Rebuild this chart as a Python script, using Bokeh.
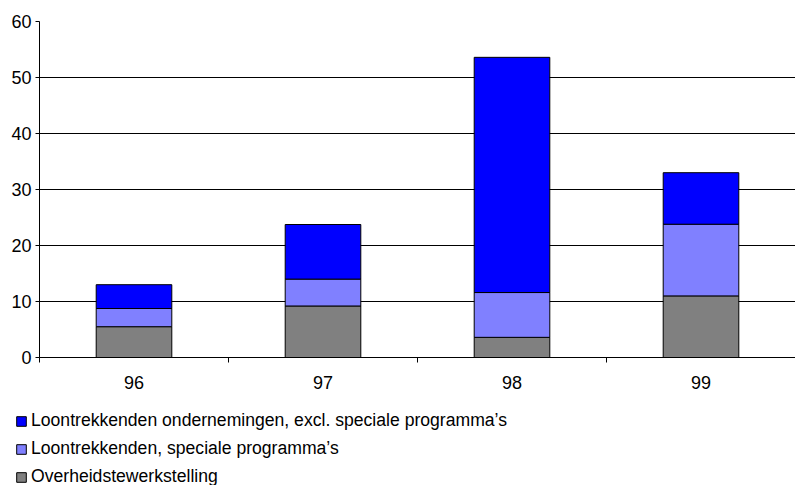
import numpy as np
from bokeh.plotting import figure
from bokeh.layouts import column
from bokeh.models import (ColumnDataSource, Range1d, FixedTicker, Legend,
                          LegendItem)
from bokeh.embed import file_html
from bokeh.resources import INLINE

# Years on the category axis
years = ["96", "97", "98", "99"]

# Stacked series (bottom to top)
overheid = [5.5, 9.2, 3.6, 11.0]          # Overheidstewerkstelling
speciaal = [3.25, 4.8, 8.0, 12.8]         # Loontrekkenden, speciale programma's
ondernemingen = [4.25, 9.75, 42.0, 9.2]   # Loontrekkenden ondernemingen, excl. ...

series_labels = [
    "Loontrekkenden ondernemingen, excl. speciale programma\u2019s",
    "Loontrekkenden, speciale programma\u2019s",
    "Overheidstewerkstelling",
]

y_ticks = [0, 10, 20, 30, 40, 50, 60]

FONT = "Liberation Sans"
BLUE = "#0000ff"
LIGHT = "#8080ff"
GRAY = "#808080"
COLORS = [GRAY, LIGHT, BLUE]   # bottom to top
STACK = ["overheid", "speciaal", "ondernemingen"]

# category centres sit at half-integers, boundaries at integers
centres = list(np.arange(len(years)) + 0.5)
boundaries = list(range(len(years) + 1))

source = ColumnDataSource(dict(
    x=centres,
    overheid=overheid,
    speciaal=speciaal,
    ondernemingen=ondernemingen,
))

p = figure(
    width=795, height=400,
    x_range=Range1d(0, len(years)),
    y_range=Range1d(y_ticks[0], y_ticks[-1]),
    output_backend="svg", toolbar_location=None,
    min_border_left=39, min_border_right=0,
    min_border_top=21, min_border_bottom=43,
)
p.frame_align = False
p.outline_line_color = None
p.background_fill_color = "white"
p.border_fill_color = "white"

stack = p.vbar_stack(
    STACK, x="x", width=0.4, source=source,
    fill_color=COLORS, line_color="black", line_width=1,
)

# x axis: labels under the bars, tick marks between categories
p.xaxis.ticker = FixedTicker(ticks=centres, minor_ticks=boundaries)
p.xaxis.major_label_overrides = {c: y for c, y in zip(centres, years)}
p.xaxis.major_tick_out = 0
p.xaxis.major_tick_in = 0
p.xaxis.minor_tick_out = 5
p.xaxis.minor_tick_in = 0
p.xaxis.minor_tick_line_color = "black"
p.xaxis.axis_line_color = "black"
p.xaxis.major_label_standoff = 13
p.xaxis.major_label_text_font = FONT
p.xaxis.major_label_text_font_size = "18px"
p.xaxis.major_label_text_color = "black"

# y axis
p.yaxis.ticker = FixedTicker(ticks=y_ticks)
p.yaxis.major_tick_out = 4
p.yaxis.major_tick_in = 0
p.yaxis.minor_tick_out = 0
p.yaxis.minor_tick_in = 0
p.yaxis.major_tick_line_color = "black"
p.yaxis.axis_line_color = "black"
p.yaxis.major_label_standoff = 4
p.yaxis.major_label_text_font = FONT
p.yaxis.major_label_text_font_size = "18px"
p.yaxis.major_label_text_color = "black"

p.xgrid.visible = False
p.ygrid.ticker = FixedTicker(ticks=y_ticks)
p.ygrid.grid_line_color = "black"
p.ygrid.grid_line_width = 1

# legend strip underneath the chart; its stack renderers only supply the
# swatch styling, their bars lie far outside this strip's ranges
lg = figure(
    width=795, height=85,
    x_range=Range1d(1000, 1001), y_range=Range1d(1000, 1001),
    x_axis_location=None, y_axis_location=None,
    output_backend="svg", toolbar_location=None,
    min_border=0,
)
lg.frame_align = False
lg.outline_line_color = None
lg.grid.visible = False
swatches = lg.vbar_stack(
    STACK, x="x", width=0.4, source=source,
    fill_color=COLORS, line_color="black", line_width=1,
)

legend = Legend(
    items=[
        LegendItem(label=series_labels[0], renderers=[swatches[2]]),
        LegendItem(label=series_labels[1], renderers=[swatches[1]]),
        LegendItem(label=series_labels[2], renderers=[swatches[0]]),
    ],
    location=(15, -2),
    orientation="vertical",
    glyph_width=12, glyph_height=12,
    label_height=20,
    label_standoff=4, spacing=7,
    padding=0, margin=0,
    border_line_color=None, background_fill_alpha=0,
    label_text_font=FONT, label_text_font_size="17.6px",
    label_text_color="black",
)
lg.add_layout(legend, "center")

with open("out.html", "w") as f:
    f.write(file_html(column(p, lg, spacing=0), INLINE))
